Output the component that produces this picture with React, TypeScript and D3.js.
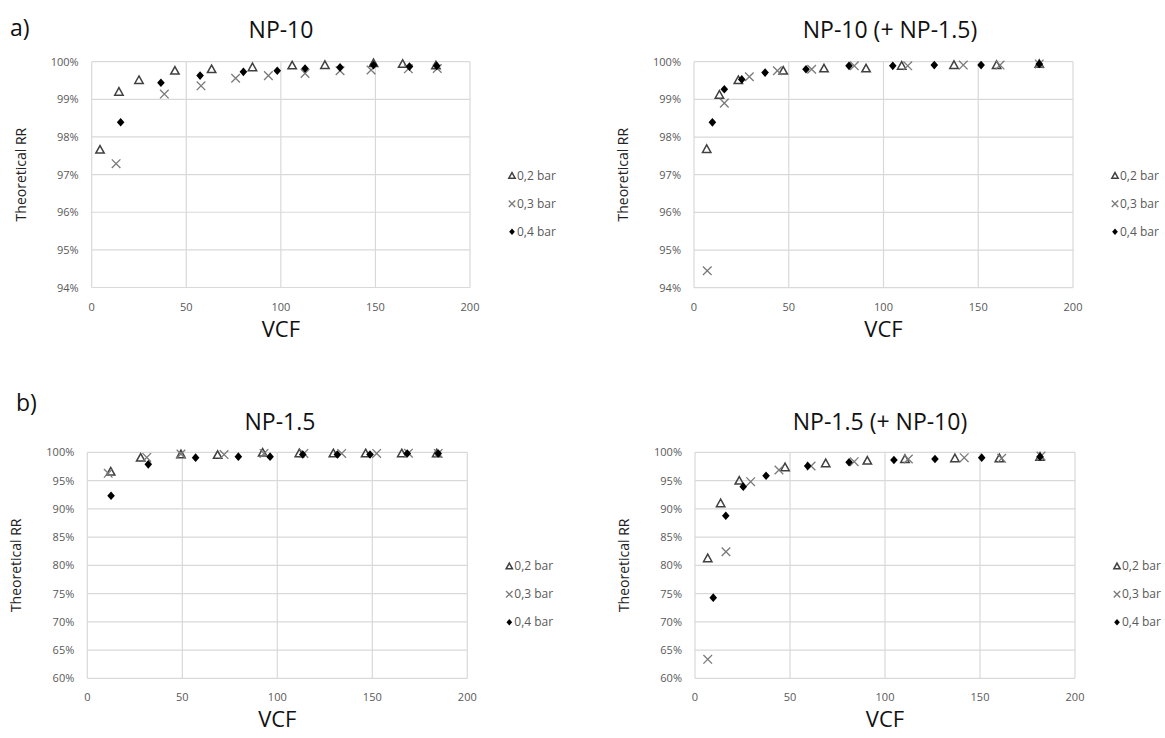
import React from "react";
import * as d3 from "d3";

type Pt = [number, number];

const SERIES_NAMES = ["0,2 bar", "0,3 bar", "0,4 bar"];
const X_TICKS = [0, 50, 100, 150, 200];
const Y_TICKS_A = [94, 95, 96, 97, 98, 99, 100];
const Y_TICKS_B = [60, 65, 70, 75, 80, 85, 90, 95, 100];

// a) NP-10
const NP10_02: Pt[] = [[4.4, 97.66], [14.4, 99.2], [25, 99.51], [44, 99.76], [63.4, 99.8], [85, 99.85], [106, 99.9], [123.3, 99.91], [149, 99.96], [164.4, 99.94], [182, 99.9]];
const NP10_03: Pt[] = [[12.9, 97.29], [38.4, 99.14], [57.8, 99.36], [76.1, 99.56], [93.4, 99.63], [112.8, 99.69], [131.3, 99.76], [147.7, 99.78], [167.4, 99.81], [182.7, 99.82]];
const NP10_04: Pt[] = [[15.3, 98.39], [36.6, 99.44], [57.3, 99.63], [80.2, 99.73], [98.1, 99.76], [112.8, 99.82], [131.3, 99.85], [149, 99.91], [168, 99.87], [182.4, 99.89]];

// a) NP-10 (+ NP-1.5)
const NP10M_02: Pt[] = [[6.7, 97.68], [13.4, 99.12], [23.4, 99.51], [47.1, 99.76], [68.6, 99.82], [90.8, 99.82], [109.6, 99.89], [137.2, 99.91], [159.7, 99.91], [182.2, 99.94]];
const NP10M_03: Pt[] = [[7, 94.45], [16, 98.9], [29.2, 99.6], [44, 99.76], [62.1, 99.8], [84.6, 99.89], [112.8, 99.89], [142.1, 99.91], [161.5, 99.91], [182.2, 99.94]];
const NP10M_04: Pt[] = [[9.7, 98.39], [16, 99.27], [25.2, 99.53], [37.5, 99.71], [59.1, 99.8], [81.8, 99.89], [104.9, 99.89], [126.8, 99.91], [151.5, 99.91], [182.2, 99.94]];

// b) NP-1.5
const NP15_02: Pt[] = [[12.3, 96.57], [28.1, 99.04], [49.3, 99.64], [68.6, 99.52], [92.3, 99.93], [111.6, 99.82], [129.5, 99.8], [146.5, 99.8], [165.5, 99.8], [183.9, 99.8]];
const NP15_03: Pt[] = [[11, 96.28], [31.3, 99.1], [49.3, 99.7], [72, 99.6], [93, 99.8], [114, 99.8], [133.9, 99.8], [152.3, 99.8], [169, 99.85], [184.7, 99.8]];
const NP15_04: Pt[] = [[12.5, 92.32], [32.1, 97.87], [57, 99.05], [79.5, 99.23], [96.2, 99.23], [113.4, 99.6], [131.6, 99.6], [148.8, 99.6], [168.4, 99.8], [184.7, 99.8]];

// b) NP-1.5 (+ NP-10)
const NP15M_02: Pt[] = [[6.7, 81.24], [13.5, 90.97], [23.3, 94.97], [47.4, 97.35], [68.8, 98.05], [90.7, 98.51], [110.5, 98.81], [136.8, 98.94], [160.2, 98.94], [181.6, 99.2]];
const NP15M_03: Pt[] = [[6.7, 63.36], [16.3, 82.4], [29.3, 94.8], [44.2, 96.87], [61.1, 97.57], [83.8, 98.34], [112.3, 98.81], [141.7, 99.05], [161.4, 98.94], [182.1, 99.35]];
const NP15M_04: Pt[] = [[9.6, 74.27], [16.2, 88.78], [25.4, 93.92], [37.4, 95.86], [59.3, 97.57], [81.1, 98.23], [104.7, 98.64], [126.3, 98.81], [150.9, 99.05], [181.6, 99.2]];

const FONT = "'Open Sans', 'DejaVu Sans', sans-serif";
const GRID = "#d9d9d9";
const TICK_COLOR = "#595959";

function Marker({ kind, x, y, s = 1 }: { kind: number; x: number; y: number; s?: number }) {
  if (kind === 0) {
    const r = 4.2 * s;
    const p = `M${x},${y - r} L${x + r},${y + r * 0.8} L${x - r},${y + r * 0.8} Z`;
    return <path d={p} fill="none" stroke="#404040" strokeWidth={1.5} />;
  }
  if (kind === 1) {
    const r = 4.3 * s;
    return (
      <path
        d={`M${x - r},${y - r} L${x + r},${y + r} M${x - r},${y + r} L${x + r},${y - r}`}
        stroke="#7a7a7a"
        strokeWidth={1.3}
        fill="none"
      />
    );
  }
  const r = 4.3 * s;
  const w = 3.8 * s;
  return <path d={`M${x},${y - r} L${x + w},${y} L${x},${y + r} L${x - w},${y} Z`} fill="#000" />;
}

interface PanelProps {
  title: string;
  titleX: number;
  titleY: number;
  left: number;
  top: number;
  right: number;
  bottom: number;
  yTicks: number[];
  data: Pt[][];
}

function Panel({ title, titleX, titleY, left, top, right, bottom, yTicks, data }: PanelProps) {
  const x = d3.scaleLinear().domain([X_TICKS[0], X_TICKS[X_TICKS.length - 1]]).range([left, right]);
  const y = d3.scaleLinear().domain([yTicks[0], yTicks[yTicks.length - 1]]).range([bottom, top]);
  return (
    <g>
      <text x={titleX} y={titleY} textAnchor="middle" fontFamily={FONT} fontSize={23} fill="#111">
        {title}
      </text>
      {yTicks.map((t) => (
        <line key={"hy" + t} x1={left} x2={right} y1={y(t)} y2={y(t)} stroke={GRID} strokeWidth={1.2} />
      ))}
      {X_TICKS.map((t) => (
        <line key={"vx" + t} x1={x(t)} x2={x(t)} y1={top} y2={bottom} stroke={GRID} strokeWidth={1.2} />
      ))}
      {yTicks.map((t) => (
        <text key={"ty" + t} x={left - 13} y={y(t) + 4} textAnchor="end" fontFamily={FONT} fontSize={11} fill={TICK_COLOR}>
          {t + "%"}
        </text>
      ))}
      {X_TICKS.map((t) => (
        <text key={"tx" + t} x={x(t)} y={bottom + 23} textAnchor="middle" fontFamily={FONT} fontSize={11} fill={TICK_COLOR}>
          {t}
        </text>
      ))}
      <text
        transform={`translate(${left - 66},${(top + bottom) / 2}) rotate(-90)`}
        textAnchor="middle"
        fontFamily={FONT}
        fontSize={14}
        fill="#222"
      >
        Theoretical RR
      </text>
      <text x={(left + right) / 2} y={bottom + 49} textAnchor="middle" fontFamily={FONT} fontSize={22} fill="#111">
        VCF
      </text>
      {data.map((s, i) => (
        <g key={"s" + i}>
          {s.map((d, j) => (
            <Marker key={j} kind={i} x={x(d[0])} y={y(d[1])} />
          ))}
        </g>
      ))}
      {SERIES_NAMES.map((n, i) => (
        <g key={"lg" + i}>
          <Marker kind={i} x={right + 42} y={top + 114 + i * 28} s={0.75} />
          <text x={right + 47} y={top + 118 + i * 28} fontFamily={FONT} fontSize={12} fill={TICK_COLOR}>
            {n}
          </text>
        </g>
      ))}
    </g>
  );
}

export default function App() {
  return (
    <svg width={1165} height={738} style={{ position: "absolute", left: 0, top: 0, background: "#fff" }}>
      <rect x={0} y={0} width={1165} height={738} fill="#fff" />
      <text x={10} y={36} fontFamily={FONT} fontSize={23} fill="#111">a)</text>
      <text x={16} y={411} fontFamily={FONT} fontSize={23} fill="#111">b)</text>
      <Panel title="NP-10" titleX={281} titleY={38} left={91.7} top={61.7} right={470} bottom={287.5} yTicks={Y_TICKS_A} data={[NP10_02, NP10_03, NP10_04]} />
      <Panel title="NP-10 (+ NP-1.5)" titleX={890} titleY={38} left={694} top={61.7} right={1073} bottom={287.7} yTicks={Y_TICKS_A} data={[NP10M_02, NP10M_03, NP10M_04]} />
      <Panel title="NP-1.5" titleX={280} titleY={430} left={87.3} top={452.3} right={467.3} bottom={678.3} yTicks={Y_TICKS_B} data={[NP15_02, NP15_03, NP15_04]} />
      <Panel title="NP-1.5 (+ NP-10)" titleX={880} titleY={430} left={695} top={452.3} right={1075} bottom={678.3} yTicks={Y_TICKS_B} data={[NP15M_02, NP15M_03, NP15M_04]} />
    </svg>
  );
}
